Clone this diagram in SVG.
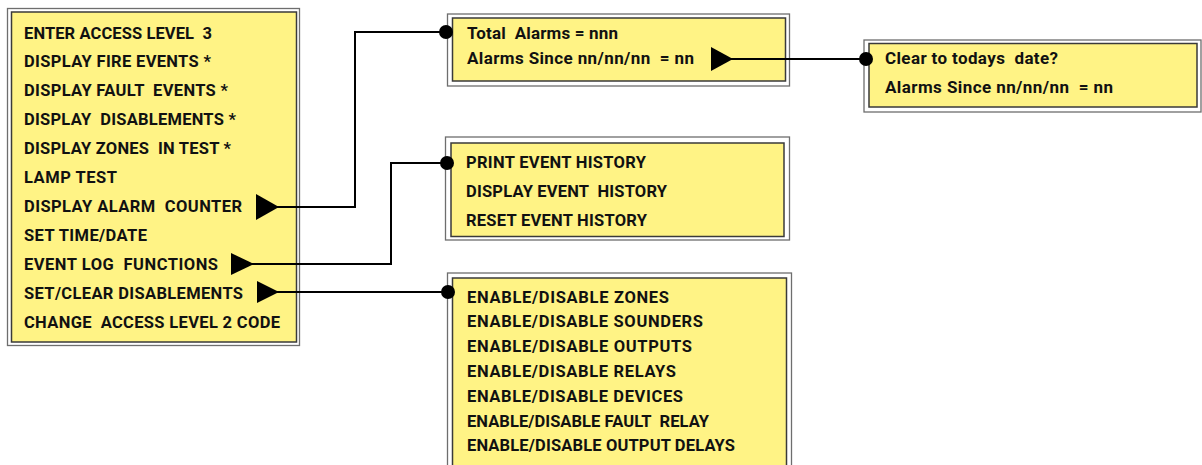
<svg xmlns="http://www.w3.org/2000/svg" width="1202" height="465" viewBox="0 0 1202 465">
<style>
.outer{fill:#ffffff;stroke:#6e6e6e;stroke-width:1.3}
.inner{fill:#fff385;stroke:#3a3a3a;stroke-width:1.5}
.t{font-family:Roboto,"Liberation Sans",sans-serif;font-weight:700;font-size:16.5px;fill:#111;white-space:pre}
.l{font-size:17px}
.wire{fill:none;stroke:#000;stroke-width:2}
.dot{fill:#000}
.tri{fill:#000}
</style>
<rect width="1202" height="465" fill="#fff"/>
<g id="menu">
<rect class="outer" x="7.5" y="8.5" width="292" height="337"/>
<rect class="inner" x="11.5" y="12" width="285" height="330"/>
<text class="t" xml:space="preserve" x="24" y="38.5" textLength="188">ENTER ACCESS LEVEL  3</text>
<text class="t" xml:space="preserve" x="24" y="67.4" textLength="187">DISPLAY FIRE EVENTS *</text>
<text class="t" xml:space="preserve" x="24" y="96.3" textLength="204">DISPLAY FAULT  EVENTS *</text>
<text class="t" xml:space="preserve" x="24" y="125.2" textLength="212">DISPLAY  DISABLEMENTS *</text>
<text class="t" xml:space="preserve" x="24" y="154.1" textLength="207">DISPLAY ZONES  IN TEST *</text>
<text class="t" xml:space="preserve" x="24" y="183" textLength="93">LAMP TEST</text>
<text class="t" xml:space="preserve" x="24" y="211.9" textLength="218">DISPLAY ALARM  COUNTER</text>
<text class="t" xml:space="preserve" x="24" y="240.8" textLength="123">SET TIME/DATE</text>
<text class="t" xml:space="preserve" x="24" y="269.7" textLength="194">EVENT LOG  FUNCTIONS</text>
<text class="t" xml:space="preserve" x="24" y="298.6" textLength="219">SET/CLEAR DISABLEMENTS</text>
<text class="t" xml:space="preserve" x="24" y="327.5" textLength="256">CHANGE  ACCESS LEVEL 2 CODE</text>
</g>
<g id="alarm-counter">
<rect class="outer" x="447.5" y="14" width="342" height="72"/>
<rect class="inner" x="452.5" y="18" width="333" height="63"/>
<text class="t l" xml:space="preserve" x="467" y="38.5" textLength="151">Total  Alarms = nnn</text>
<text class="t l" xml:space="preserve" x="467" y="63.5" textLength="227">Alarms Since nn/nn/nn  = nn</text>
</g>
<g id="clear-date">
<rect class="outer" x="864" y="40" width="337" height="72"/>
<rect class="inner" x="869" y="43.5" width="328" height="63.5"/>
<text class="t l" xml:space="preserve" x="885" y="63.5" textLength="173">Clear to todays  date?</text>
<text class="t l" xml:space="preserve" x="885" y="93" textLength="228">Alarms Since nn/nn/nn  = nn</text>
</g>
<g id="event-log">
<rect class="outer" x="445.5" y="137" width="344" height="103"/>
<rect class="inner" x="451" y="143" width="333" height="93.5"/>
<text class="t" xml:space="preserve" x="466" y="167.5" textLength="180">PRINT EVENT HISTORY</text>
<text class="t" xml:space="preserve" x="466" y="196.5" textLength="201">DISPLAY EVENT  HISTORY</text>
<text class="t" xml:space="preserve" x="466" y="225.5" textLength="181">RESET EVENT HISTORY</text>
</g>
<g id="disablements">
<rect class="outer" x="447.5" y="273" width="344" height="200"/>
<rect class="inner" x="452.5" y="278" width="334" height="200"/>
<text class="t" xml:space="preserve" x="467" y="302.5" textLength="202">ENABLE/DISABLE ZONES</text>
<text class="t" xml:space="preserve" x="467" y="327.3" textLength="236">ENABLE/DISABLE SOUNDERS</text>
<text class="t" xml:space="preserve" x="467" y="352.1" textLength="225">ENABLE/DISABLE OUTPUTS</text>
<text class="t" xml:space="preserve" x="467" y="376.9" textLength="209">ENABLE/DISABLE RELAYS</text>
<text class="t" xml:space="preserve" x="467" y="401.7" textLength="216">ENABLE/DISABLE DEVICES</text>
<text class="t" xml:space="preserve" x="467" y="426.5" textLength="242">ENABLE/DISABLE FAULT  RELAY</text>
<text class="t" xml:space="preserve" x="467" y="451.3" textLength="268">ENABLE/DISABLE OUTPUT DELAYS</text>
</g>
<g id="connectors">
<polyline class="wire" points="276,207 355,207 355,32 446,32"/>
<polygon class="tri" points="256,194 279,207 256,220"/>
<circle class="dot" cx="446" cy="32" r="7"/>
<polyline class="wire" points="731,59 866,59"/>
<polygon class="tri" points="711,47 733,59 711,71"/>
<circle class="dot" cx="866" cy="59" r="7"/>
<polyline class="wire" points="252,264 391,264 391,163 447,163"/>
<polygon class="tri" points="231,253 254,264 231,275"/>
<circle class="dot" cx="447" cy="163" r="7"/>
<polyline class="wire" points="276,292 448,292"/>
<polygon class="tri" points="257,281 279,292 257,303"/>
<circle class="dot" cx="448" cy="292" r="7"/>
</g>
</svg>
